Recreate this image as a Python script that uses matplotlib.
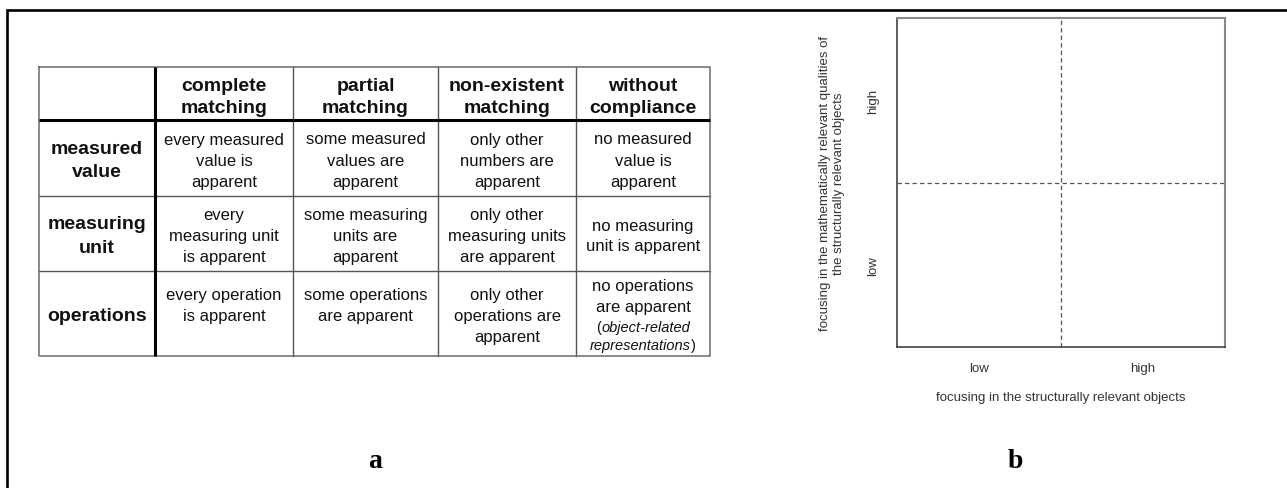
import matplotlib.pyplot as plt

plt.rcParams['font.family'] = ['Liberation Sans', 'DejaVu Sans']

# ---- data ----
col_heads = ["complete\nmatching", "partial\nmatching",
             "non-existent\nmatching", "without\ncompliance"]
row_heads = ["measured\nvalue", "measuring\nunit", "operations"]
cells = [
    ["every measured\nvalue is\napparent",
     "some measured\nvalues are\napparent",
     "only other\nnumbers are\napparent",
     "no measured\nvalue is\napparent"],
    ["every\nmeasuring unit\nis apparent",
     "some measuring\nunits are\napparent",
     "only other\nmeasuring units\nare apparent",
     "no measuring\nunit is apparent"],
    ["every operation\nis apparent",
     "some operations\nare apparent",
     "only other\noperations are\napparent",
     "no operations\nare apparent\n(_object-related_\n_representations_)"],
]
levels = ["low", "high"]
x_label = "focusing in the structurally relevant objects"
y_label = "focusing in the mathematically relevant qualities of\nthe structurally relevant objects"
panel_tags = ["a", "b"]

W, H = 1287, 489
fig = plt.figure(figsize=(W / 100, H / 100), dpi=100)
ax0 = fig.add_axes([0, 0, 1, 1])
ax0.set_xlim(0, W)
ax0.set_ylim(H, 0)
ax0.axis('off')
renderer = fig.canvas.get_renderer()

# outer frame (only top and left edges visible)
ax0.plot([6, W], [10.5, 10.5], color='black', lw=1.9, solid_capstyle='butt')
ax0.plot([7, 7], [9.5, H], color='black', lw=1.9, solid_capstyle='butt')

# ---- table a ----
xs = [39, 155, 293, 438, 576, 710]
ys = [68, 121, 197, 272, 357]

for x in xs[2:-1]:
    ax0.plot([x, x], [ys[0], ys[-1]], color='#555555', lw=1.0)
for y in ys[2:-1]:
    ax0.plot([xs[0], xs[-1]], [y, y], color='#555555', lw=1.0)
ax0.plot([xs[0], xs[-1], xs[-1], xs[0], xs[0]],
         [ys[0], ys[0], ys[-1], ys[-1], ys[0]], color='#6a6a6a', lw=1.1)
ax0.plot([xs[1], xs[1]], [ys[0], ys[-1]], color='black', lw=2.2, solid_capstyle='butt')
ax0.plot([xs[0], xs[-1]], [ys[1], ys[1]], color='black', lw=2.2, solid_capstyle='butt')


def line_pieces(line):
    parts = line.split('_')
    return [(p, i % 2 == 1) for i, p in enumerate(parts) if p]


def draw_cell(xc, yc, text, size, weight='normal', px_per_pt=1.75, min_lines=0):
    lines = text.split('\n')
    sizes = [size - 1.5 if '_' in ln else size for ln in lines]
    # pad short cells so they start at the same height as longer ones
    while len(lines) < min_lines:
        lines.append('')
        sizes.append(size)
    offs = [0.0]
    for i in range(1, len(lines)):
        offs.append(offs[-1] + (sizes[i - 1] + sizes[i]) / 2 * px_per_pt)
    shift = yc - (offs[0] + offs[-1]) / 2
    for ln, s, o in zip(lines, sizes, offs):
        if not ln:
            continue
        pieces = line_pieces(ln)
        objs = []
        for p, it in pieces:
            t = ax0.text(0, o + shift, p, fontsize=s, fontweight=weight,
                         style='italic' if it else 'normal', color='#111111',
                         ha='left', va='center')
            objs.append(t)
        widths = [t.get_window_extent(renderer).width for t in objs]
        x = xc - sum(widths) / 2
        for t, w in zip(objs, widths):
            t.set_x(x)
            x += w


for j, head in enumerate(col_heads):
    draw_cell((xs[j + 1] + xs[j + 2]) / 2, (ys[0] + ys[1]) / 2 + 3, head, 14,
              weight='bold', px_per_pt=1.57)
for i, head in enumerate(row_heads):
    draw_cell((xs[0] + xs[1]) / 2, (ys[i + 1] + ys[i + 2]) / 2 + 2, head, 14,
              weight='bold', px_per_pt=1.65)
for i, row in enumerate(cells):
    for j, txt in enumerate(row):
        min_lines = 3 if i == len(cells) - 1 else 0
        draw_cell((xs[j + 1] + xs[j + 2]) / 2, (ys[i + 1] + ys[i + 2]) / 2 + 2,
                  txt, 12, min_lines=min_lines)

# ---- panel b ----
axb = fig.add_axes([897 / W, 1 - 348 / H, (1225 - 897) / W, (348 - 19) / H])
axb.set_xlim(0, 1)
axb.set_ylim(0, 1)
axb.axvline(0.5, color='#555555', lw=0.9, ls=(0, (3.5, 2.5)))
axb.axhline(0.5, color='#555555', lw=0.9, ls=(0, (3.5, 2.5)))
axb.set_xticks([0.25, 0.75], levels)
axb.set_yticks([0.25, 0.75], levels, rotation=90, va='center')
axb.tick_params(length=0, labelsize=9.5, colors='#333333')
axb.tick_params(axis='x', pad=11)
axb.tick_params(axis='y', pad=13)
axb.set_xlabel(x_label, fontsize=9.5, color='#333333', labelpad=12)
axb.set_ylabel(y_label, fontsize=9.5, color='#333333', labelpad=16)
for side in ['left', 'bottom']:
    axb.spines[side].set_color('#333333')
    axb.spines[side].set_linewidth(1.1)
for side in ['top', 'right']:
    axb.spines[side].set_color('#888888')
    axb.spines[side].set_linewidth(1.5)

# panel tags
for tag, x, y in zip(panel_tags, [375, 1015], [462, 461]):
    ax0.text(x, y, tag, family=['Liberation Serif', 'DejaVu Serif'],
             fontweight='bold', fontsize=20, ha='center', va='center')

fig.savefig('out.png', dpi=100, facecolor='white')
